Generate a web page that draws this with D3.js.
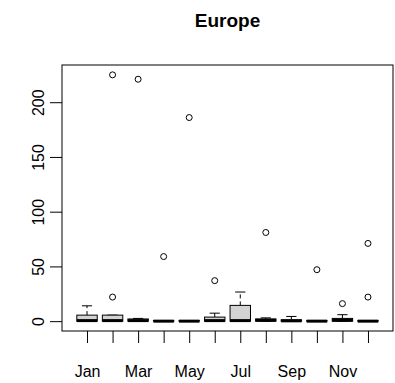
<!DOCTYPE html>
<html>
<head>
<meta charset="utf-8">
<script src="https://cdn.jsdelivr.net/npm/d3@7"></script>
<style>
  body { margin: 0; background: #fff; }
  svg { display: block; }
</style>
</head>
<body>
<div id="chart"></div>
<script>
// box statistics per month
var months   = ["Jan","Feb","Mar","Apr","May","Jun","Jul","Aug","Sep","Oct","Nov","Dec"];
var whiskLo  = [0,   0,   0,   0,   0,   0,   0,    0,   0,   0,   0,   0];
var q1       = [0,   0,   0,   0,   0,   0,   0,    0,   0,   0,   0,   0];
var medians  = [0.5, 0.5, 0.5, 0,   0,   0.5, 0.5,  0.8, 0.3, 0,   0.8, 0];
var q3       = [5.5, 5.5, 2,   0.5, 0.5, 3.7, 14.4, 2,   1.2, 0.5, 2.5, 0.5];
var whiskHi  = [14,  5.5, 2.5, 0.5, 0.5, 7.3, 26.6, 3,   4.3, 0.5, 5.9, 0.5];
var outliers = [[], [22, 225], [221], [59], [186], [37], [], [81], [], [47], [16], [22, 71]];
var yTicks   = [0, 50, 100, 150, 200];
var title    = "Europe";

var W = 395, H = 383;
var pLeft = 62, pRight = 393, pTop = 65, pBottom = 331;
var font = "'Liberation Sans', Arial, sans-serif";

var svg = d3.select("#chart").append("svg")
  .attr("width", W).attr("height", H)
  .style("font-family", font);

// R style range extension of 4%
var allVals = whiskLo.concat(whiskHi, d3.merge(outliers));
var lo = d3.min(allVals), hi = d3.max(allVals);
var pad = (hi - lo) * 0.04;
var y = d3.scaleLinear().domain([lo - pad, hi + pad]).range([pBottom, pTop]);
var x = d3.scaleLinear().domain([0.5 - 0.48, 12.5 + 0.48]).range([pLeft, pRight]);
var bw = (x(1) - x(0)) * 0.8;

// title
svg.append("text")
  .attr("x", (pLeft + pRight) / 2).attr("y", 27)
  .attr("text-anchor", "middle")
  .attr("font-weight", "bold").attr("font-size", 19)
  .text(title);

// boxes
var g = svg.append("g");
months.forEach(function (m, i) {
  var cx = x(i + 1);
  // whiskers
  g.append("line").attr("x1", cx).attr("x2", cx)
    .attr("y1", y(q3[i])).attr("y2", y(whiskHi[i]))
    .attr("stroke", "#000").attr("stroke-dasharray", "4,3");
  g.append("line").attr("x1", cx).attr("x2", cx)
    .attr("y1", y(q1[i])).attr("y2", y(whiskLo[i]))
    .attr("stroke", "#000").attr("stroke-dasharray", "4,3");
  g.append("line").attr("x1", cx - bw / 4).attr("x2", cx + bw / 4)
    .attr("y1", y(whiskHi[i])).attr("y2", y(whiskHi[i]))
    .attr("stroke", "#000");
  g.append("line").attr("x1", cx - bw / 4).attr("x2", cx + bw / 4)
    .attr("y1", y(whiskLo[i])).attr("y2", y(whiskLo[i]))
    .attr("stroke", "#000");
  // box
  g.append("rect")
    .attr("x", cx - bw / 2).attr("width", bw)
    .attr("y", y(q3[i])).attr("height", y(q1[i]) - y(q3[i]))
    .attr("fill", "#d3d3d3").attr("stroke", "#000");
  // median
  g.append("line").attr("x1", cx - bw / 2).attr("x2", cx + bw / 2)
    .attr("y1", y(medians[i])).attr("y2", y(medians[i]))
    .attr("stroke", "#000").attr("stroke-width", 3);
  // outliers
  g.selectAll(null).data(outliers[i]).enter().append("circle")
    .attr("cx", cx).attr("cy", function (d) { return y(d); })
    .attr("r", 3).attr("fill", "none").attr("stroke", "#000");
});

// frame
svg.append("rect")
  .attr("x", pLeft).attr("y", pTop)
  .attr("width", pRight - pLeft).attr("height", pBottom - pTop)
  .attr("fill", "none").attr("stroke", "#000");

// y axis
var ya = svg.append("g").attr("transform", "translate(" + pLeft + ",0)")
  .call(d3.axisLeft(y).tickValues(yTicks).tickSize(12).tickSizeOuter(0));
ya.select(".domain").remove();
ya.selectAll("text")
  .attr("transform", "rotate(-90)")
  .attr("x", 0).attr("y", -18).attr("dy", 0)
  .attr("text-anchor", "middle")
  .attr("font-size", 16).attr("fill", "#000")
  .style("font-family", font);

// x axis
var xa = svg.append("g").attr("transform", "translate(0," + pBottom + ")")
  .call(d3.axisBottom(x).tickValues(d3.range(1, 13)).tickSize(12).tickSizeOuter(0)
    .tickFormat(function (d) { return (d % 2 === 1) ? months[d - 1] : ""; }));
xa.select(".domain").remove();
xa.selectAll("text")
  .attr("y", 46).attr("dy", 0)
  .attr("font-size", 16).attr("fill", "#000")
  .style("font-family", font);
</script>
</body>
</html>
